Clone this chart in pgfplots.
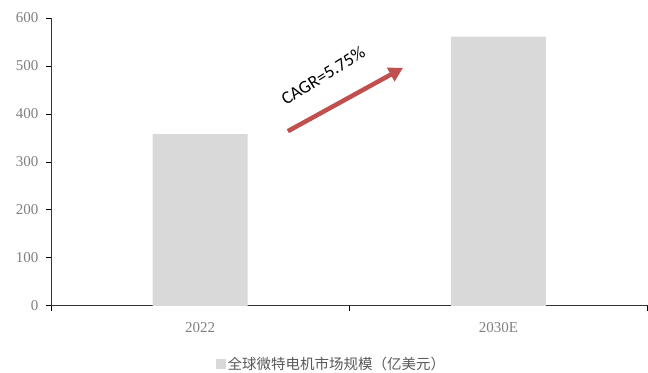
\documentclass[border=0pt]{standalone}
\usepackage{pgfplots}
\pgfplotsset{compat=1.18}
\usetikzlibrary{arrows.meta}
\usepackage{fontspec}
\setmainfont{Liberation Serif}
\newfontfamily\cjk{Noto Sans CJK SC}
\newfontfamily\calfont{Carlito}
\definecolor{bargray}{HTML}{D9D9D9}
\definecolor{ticktxt}{HTML}{808080}
\definecolor{legtxt}{HTML}{595959}
\definecolor{arrowred}{HTML}{C0504D}
\begin{document}
\begin{tikzpicture}
\path (-51pt,-67pt) rectangle (597pt,306pt);
\begin{axis}[
  at={(0,0)}, anchor=origin,
  scale only axis, width=597pt, height=288pt,
  xmin=0, xmax=2, ymin=0, ymax=600,
  axis x line*=bottom, axis y line*=left,
  axis line style={-, color=black!80, line width=0.8pt},
  ytick={0,100,...,600},
  xtick={0.5,1.5}, xticklabels={2022,2030E},
  minor xtick={0,1,2},
  major x tick style={draw=none},
  minor x tick style={black, line width=0.8pt},
  y tick style={black, line width=0.8pt},
  tick align=outside,
  major tick length=5pt, minor tick length=5pt,
  tick label style={font=\fontsize{15}{17}\selectfont, text=ticktxt},
  /pgf/number format/assume math mode=true,
  xticklabel style={yshift=-8pt},
  yticklabel style={xshift=-4pt},
  ybar, bar width=95pt,
  legend style={at={(0.47,-0.202)}, anchor=center, draw=none, fill=none,
    font=\cjk\fontsize{14.5}{16}\selectfont, text=legtxt, inner sep=0pt},
  legend image code/.code={\fill[bargray] (0pt,-5pt) rectangle (10pt,5pt);},
  clip=false,
]
\addplot[fill=bargray, draw=none] coordinates {(0.5,358) (1.5,561)};
\addlegendentry{全球微特电机市场规模（亿美元）}
\draw[-{Triangle[length=14pt,width=15pt]}, arrowred, line width=4.5pt]
  (axis cs:0.794,364) -- (axis cs:1.18,496);
\node[rotate=32, font=\calfont\fontsize{18}{20}\selectfont] at (axis cs:0.912,480) {CAGR=5.75\%};
\end{axis}
\end{tikzpicture}
\end{document}
